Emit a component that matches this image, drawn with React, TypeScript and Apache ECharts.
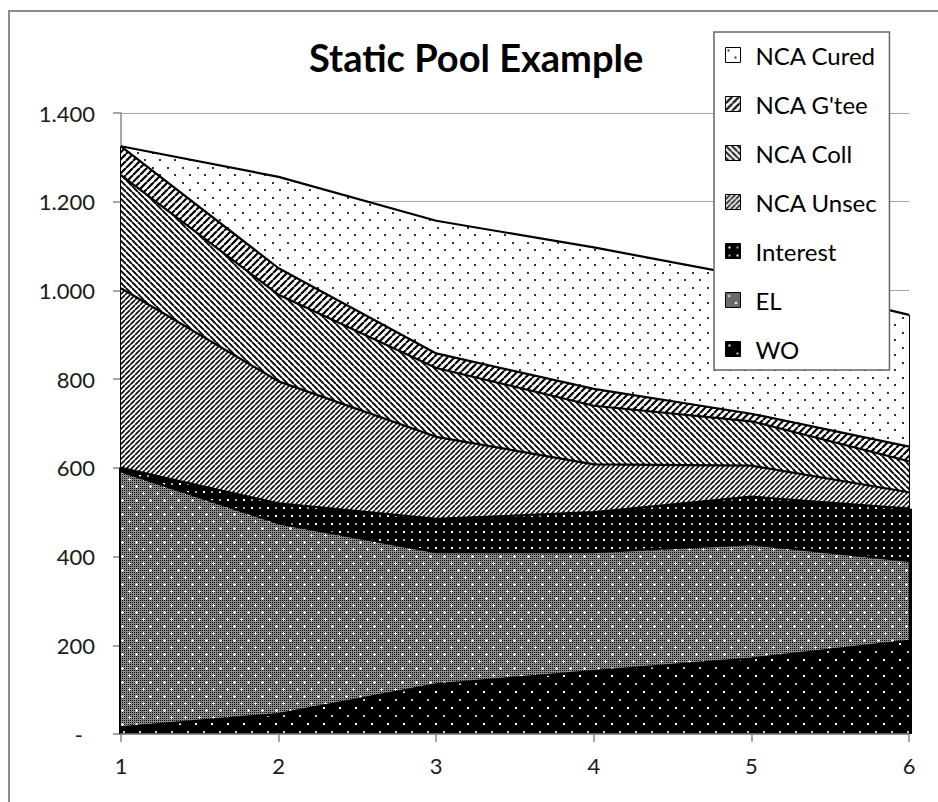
import React, { useEffect, useRef } from 'react';
import * as echarts from 'echarts';

// ---- Data ----
const categories = ['1', '2', '3', '4', '5', '6'];
const woValues = [15, 45, 112, 142, 170, 210];
const elValues = [577, 430, 298, 268, 258, 180];
const interestValues = [8, 45, 75, 90, 107, 118];
const ncaUnsecValues = [405, 275, 185, 108, 70, 37];
const ncaCollValues = [255, 195, 155, 132, 100, 70];
const ncaGteeValues = [65, 60, 33, 38, 17, 33];
const ncaCuredValues = [0, 206, 299, 319, 308, 297];
const yMin = 0;
const yMax = 1400;
const yInterval = 200;
const legendOrder = ['NCA Cured', "NCA G'tee", 'NCA Coll', 'NCA Unsec', 'Interest', 'EL', 'WO'];

type Ctx = CanvasRenderingContext2D;

function tile(size: number, draw: (ctx: Ctx, s: number) => void) {
  const c = document.createElement('canvas');
  c.width = size;
  c.height = size;
  const ctx = c.getContext('2d') as Ctx;
  draw(ctx, size);
  return { image: c.toDataURL(), repeat: 'repeat', imageWidth: size, imageHeight: size } as any;
}

function hatch(size: number, dir: '/' | '\\', color: string, lw: number) {
  return tile(size, (ctx, s) => {
    ctx.fillStyle = '#fff';
    ctx.fillRect(0, 0, s, s);
    ctx.strokeStyle = color;
    ctx.lineWidth = lw;
    ctx.beginPath();
    for (const o of [-s, 0, s]) {
      if (dir === '/') {
        ctx.moveTo(o, s);
        ctx.lineTo(o + s, 0);
      } else {
        ctx.moveTo(o, 0);
        ctx.lineTo(o + s, s);
      }
    }
    ctx.stroke();
  });
}

function makePatterns() {
  const cured = tile(15, (ctx, s) => {
    ctx.fillStyle = '#fff';
    ctx.fillRect(0, 0, s, s);
    ctx.fillStyle = '#333';
    ctx.fillRect(2, 2, 2, 2);
    ctx.fillRect(9, 9, 2, 2);
  });
  const gtee = hatch(7, '/', '#000', 2.2);
  const coll = hatch(6, '\\', '#000', 1.9);
  const unsec = hatch(5, '/', '#111', 1.7);
  const interest = tile(16, (ctx, s) => {
    ctx.fillStyle = '#000';
    ctx.fillRect(0, 0, s, s);
    ctx.fillStyle = '#fff';
    ctx.fillRect(3, 3, 2, 2);
    ctx.fillRect(11, 11, 2, 2);
    ctx.fillStyle = '#aaa';
    ctx.fillRect(11, 3, 2, 2);
    ctx.fillRect(3, 11, 2, 2);
  });
  const el = tile(14, (ctx, s) => {
    ctx.fillStyle = '#8a8a8a';
    ctx.fillRect(0, 0, s, s);
    ctx.fillStyle = '#0a0a0a';
    for (let x = 0; x < s; x += 2) for (let y = 0; y < s; y += 2) ctx.fillRect(x, y, 1, 1);
    ctx.fillStyle = '#fff';
    for (const [cx, cy] of [[3, 3], [10, 10]]) {
      ctx.fillRect(cx, cy - 1, 1, 3);
      ctx.fillRect(cx - 1, cy, 3, 1);
    }
  });
  const wo = tile(16, (ctx, s) => {
    ctx.fillStyle = '#000';
    ctx.fillRect(0, 0, s, s);
    ctx.fillStyle = '#fff';
    ctx.fillRect(3, 3, 2, 2);
    ctx.fillStyle = '#ccc';
    ctx.fillRect(11, 11, 2, 2);
  });
  return { cured, gtee, coll, unsec, interest, el, wo };
}

function fmtY(v: number) {
  if (v === 0) return '{z|-}';
  if (v >= 1000) return `${Math.floor(v / 1000)}.${String(v % 1000).padStart(3, '0')}`;
  return String(v);
}

export default function App() {
  const ref = useRef<HTMLDivElement>(null);

  useEffect(() => {
    if (!ref.current) return;
    const chart = echarts.init(ref.current, null, { renderer: 'svg' });
    const p = makePatterns();

    const stack = [
      { name: 'WO', data: woValues, fill: p.wo },
      { name: 'EL', data: elValues, fill: p.el },
      { name: 'Interest', data: interestValues, fill: p.interest },
      { name: 'NCA Unsec', data: ncaUnsecValues, fill: p.unsec },
      { name: 'NCA Coll', data: ncaCollValues, fill: p.coll },
      { name: "NCA G'tee", data: ncaGteeValues, fill: p.gtee },
      { name: 'NCA Cured', data: ncaCuredValues, fill: p.cured },
    ];
    const fillByName: Record<string, any> = {};
    stack.forEach((s) => (fillByName[s.name] = s.fill));

    const n = categories.length;
    const totals = categories.map((_, i) => stack.reduce((a, s) => a + s.data[i], 0));
    const darkTops = categories.map((_, i) => woValues[i] + elValues[i] + interestValues[i]);
    const first = categories[0];
    const last = categories[n - 1];

    const font = 'Lato, "Open Sans", "Noto Sans", sans-serif';

    const option: any = {
      animation: false,
      backgroundColor: '#fff',
      title: {
        text: 'Static Pool Example',
        left: 304,
        top: 33,
        textStyle: { fontFamily: font, fontSize: 38, fontWeight: 'bold', color: '#000' },
      },
      legend: {
        orient: 'vertical',
        left: 714,
        top: 32,
        icon: 'rect',
        itemWidth: 15,
        itemHeight: 15,
        itemGap: 25,
        selectedMode: false,
        backgroundColor: '#fff',
        borderColor: '#666',
        borderWidth: 1.5,
        padding: [11, 12, 9, 11],
        formatter: (name: string) => `{t|${name}}`,
        textStyle: {
          fontFamily: font,
          color: '#000',
          rich: { t: { fontFamily: font, fontSize: 24, lineHeight: 24, color: '#000', padding: [0, 0, 0, 10] } },
        },
        data: legendOrder.map((name) => ({
          name,
          itemStyle: { color: fillByName[name], borderColor: '#000', borderWidth: 1 },
        })),
        z: 50,
      },
      grid: { left: 121, right: 29, top: 113, bottom: 68, containLabel: false },
      xAxis: {
        type: 'category',
        data: categories,
        boundaryGap: false,
        axisLine: { show: true, lineStyle: { color: '#888', width: 1.5 } },
        axisTick: { show: true, length: 8, lineStyle: { color: '#888', width: 1.5 } },
        axisLabel: { fontFamily: font, fontSize: 22, color: '#1a1a1a', margin: 20 },
        splitLine: { show: false },
        z: 30,
      },
      yAxis: {
        type: 'value',
        min: yMin,
        max: yMax,
        interval: yInterval,
        axisLine: { show: true, lineStyle: { color: '#888', width: 1.5 } },
        axisTick: { show: true, length: 8, lineStyle: { color: '#888', width: 1.5 } },
        axisLabel: {
          fontFamily: font,
          fontSize: 22,
          color: '#1a1a1a',
          margin: 26,
          formatter: fmtY,
          rich: { z: { fontFamily: font, fontSize: 22, color: '#1a1a1a', padding: [0, 12, 0, 0] } },
        },
        splitLine: { show: true, lineStyle: { color: '#a6a6a6', width: 1.2 } },
      },
      graphic: [
        {
          type: 'polyline',
          shape: { points: [[9, 802], [9, 11], [938, 11]] },
          style: { stroke: '#8c8c8c', lineWidth: 2, fill: null },
          silent: true,
        },
      ],
      series: [
        ...stack.map((s, i) => ({
          type: 'line',
          name: s.name,
          data: s.data,
          stack: 'pool',
          symbol: 'none',
          showSymbol: false,
          lineStyle: { color: '#000', width: 2.2 },
          itemStyle: { color: '#000' },
          areaStyle: { color: s.fill, opacity: 1 },
          emphasis: { disabled: true },
          z: 20 - i,
        })),
        {
          type: 'line',
          name: 'edges',
          data: [],
          silent: true,
          z: 25,
          markLine: {
            silent: true,
            symbol: ['none', 'none'],
            label: { show: false },
            animation: false,
            data: [
              [
                { coord: [first, 0], lineStyle: { color: '#000', width: 2, type: 'solid' } },
                { coord: [first, totals[0]] },
              ],
              [
                { coord: [last, 0], lineStyle: { color: '#000', width: 2, type: 'solid' } },
                { coord: [last, totals[n - 1]] },
              ],
              [
                { coord: [first, 0], lineStyle: { color: '#000', width: 5, type: 'solid' } },
                { coord: [first, darkTops[0]] },
              ],
              [
                { coord: [last, 0], lineStyle: { color: '#000', width: 5, type: 'solid' } },
                { coord: [last, darkTops[n - 1]] },
              ],
            ],
          },
        },
      ],
    };

    chart.setOption(option);
    return () => chart.dispose();
  }, []);

  return (
    <div
      ref={ref}
      style={{ position: 'absolute', left: 0, top: 0, width: 938, height: 802, background: '#fff' }}
    />
  );
}
